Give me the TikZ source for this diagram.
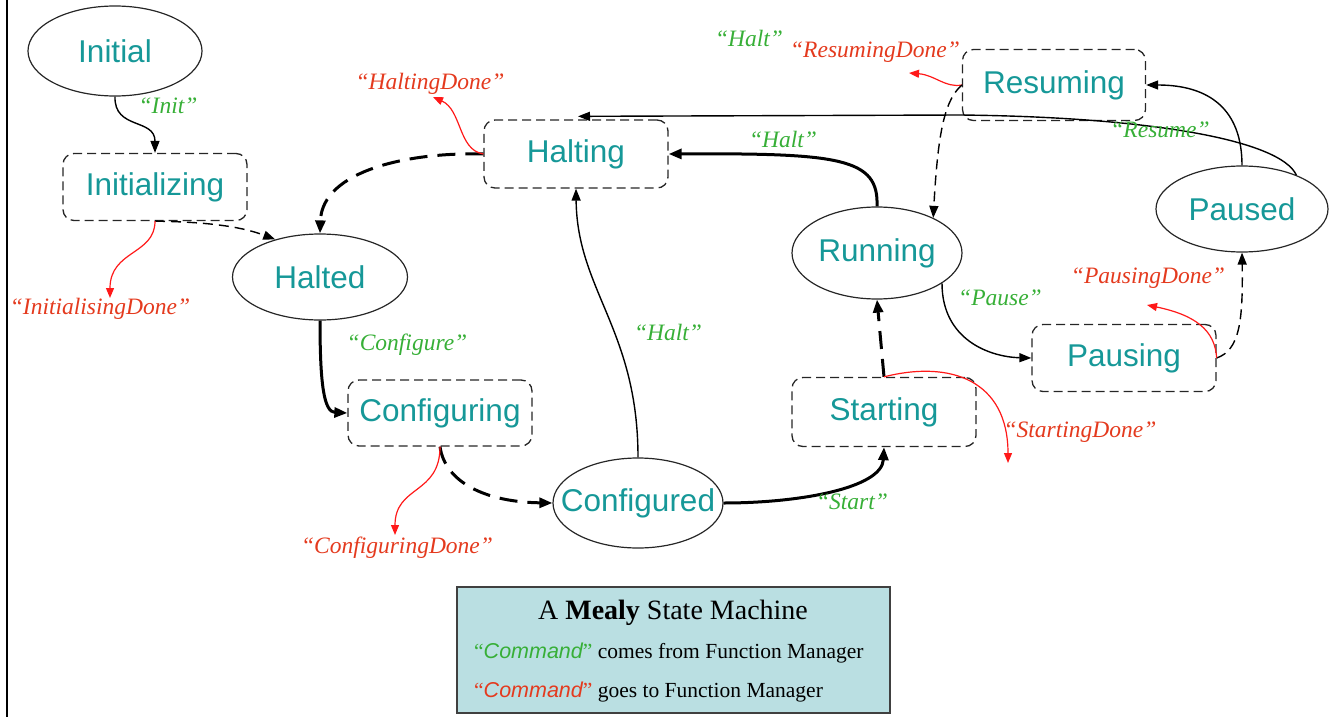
\documentclass[tikz,border=0pt]{standalone}
\usepackage{fontspec}
\setmainfont{Liberation Serif}
\newfontfamily\sansstate{Liberation Sans}
\usetikzlibrary{shapes.geometric,arrows.meta,calc}
\definecolor{stateteal}{RGB}{22,152,152}
\definecolor{lblgreen}{RGB}{55,175,55}
\definecolor{lblred}{RGB}{228,58,30}
\definecolor{arrred}{RGB}{255,25,25}
\definecolor{legendfill}{RGB}{186,223,226}
\begin{document}
\begin{tikzpicture}[x=1pt,y=-1pt,
  every node/.style={inner sep=0pt},
  stateell/.style={ellipse,draw=black!85,line width=1.2pt,text=stateteal,
    font=\sansstate\fontsize{31.5}{36}\selectfont},
  procbox/.style={rectangle,rounded corners=11pt,draw=black!85,line width=1.3pt,
    dash pattern=on 9pt off 5pt,minimum width=184pt,minimum height=68pt,text=stateteal,
    font=\sansstate\fontsize{31.5}{36}\selectfont},
  gl/.style={text=lblgreen,font=\itshape\fontsize{23.5}{26}\selectfont},
  rl/.style={text=lblred,font=\itshape\fontsize{23.5}{26}\selectfont},
  conn/.style={draw=black,line width=1.4pt,-{Triangle[length=12pt,width=9pt]}},
  tconn/.style={draw=black,line width=3pt,-{Triangle[length=13pt,width=10pt]}},
  dconn/.style={conn,dash pattern=on 10pt off 6pt},
  tdconn/.style={tconn,dash pattern=on 18pt off 10pt},
  rconn/.style={draw=arrred,line width=1.2pt,-{Triangle[length=10pt,width=8pt]}}
]
\useasboundingbox (0,0) rectangle (1333,717);
\draw[line width=2pt] (7,0) -- (7,717);

% states
\node[stateell,minimum width=174pt,minimum height=90pt] (initial) at (115,51) {Initial};
\node[procbox,minimum height=67pt] (initializing) at (155,187) {Initializing};
\node[stateell,minimum width=175pt,minimum height=86pt] (halted) at (320,277) {Halted};
\node[procbox] (halting) at (576,154) {Halting};
\node[procbox,minimum height=66pt] (configuring) at (440,413) {Configuring};
\node[stateell,minimum width=170pt,minimum height=90pt] (configured) at (638,503) {\makebox[0pt][c]{Configured}};
\node[procbox,minimum height=69pt] (starting) at (884,412) {Starting};
\node[stateell,minimum width=170pt,minimum height=92pt] (running) at (877,253) {Running};
\node[procbox,minimum width=183pt,minimum height=71pt] (resuming) at (1054,85) {Resuming};
\node[stateell,minimum width=172pt,minimum height=86pt] (paused) at (1242,209) {Paused};
\node[procbox,minimum height=67pt] (pausing) at (1124,358) {Pausing};

% free ends of the red arrows
\coordinate (cidone) at (110,298);
\coordinate (chdone) at (433,97);
\coordinate (ccdone) at (395,535);
\coordinate (csdone) at (1008,463);
\coordinate (cpdone) at (1147,305);
\coordinate (crdone) at (909,73);
\coordinate (cbend) at (960,115);

% transitions
\draw[conn] (initial.south) .. controls (114,130) and (155,118) .. (initializing.north);
\draw[dconn] (initializing.south) .. controls (215,222) and (245,228) .. (halted.140);
\draw[rconn] (initializing.south) .. controls (155,255) and (110,250) .. (cidone);
\draw[tdconn] (halting.west) .. controls (410,152) and (322,170) .. (halted.north);
\draw[rconn] (halting.west) .. controls (458,150) and (462,110) .. (chdone);
\draw[tconn] (halted.south) .. controls (320,385) and (324,412) .. (configuring.west);
\draw[tdconn] (configuring.south) .. controls (445,482) and (485,502) .. (configured.west);
\draw[rconn] (configuring.south) .. controls (440,495) and (395,485) .. (ccdone);
\draw[conn] (configured.north) .. controls (638,330) and (577,290) .. (halting.south);
\draw[tconn] (configured.east) .. controls (800,503) and (882,488) .. (starting.south);
\draw[tdconn] (starting.north) -- (running.south);
\draw[rconn] (starting.north) .. controls (950,360) and (1008,380) .. (csdone);
\draw[tconn] (running.north) .. controls (879,158) and (840,153) .. (halting.east);
\draw[conn] (running.-25) .. controls (942,340) and (990,357) .. (pausing.west);
\draw[dconn] (pausing.east) .. controls (1240,350) and (1243,320) .. (paused.south);
\draw[rconn] (pausing.east) .. controls (1215,330) and (1195,315) .. (cpdone);
\draw[conn] (paused.north) .. controls (1242,110) and (1210,85) .. (resuming.east);
\draw[conn] (paused.32) .. controls (1280,140) and (1150,117) .. (cbend) -- ($(halting.north)+(2,-3)$);
\draw[rconn] (resuming.west) .. controls (945,88) and (935,75) .. (crdone);
\draw[dconn] (resuming.west) .. controls (945,100) and (938,130) .. (running.32);

% labels
\node[gl] (linit) at (168,106) {“Init”};
\node[rl] (lidone) at (100,309) {“InitialisingDone”};
\node[rl] (lhdone) at (430,84) {“HaltingDone”};
\node[gl] (lconf) at (407,345) {“Configure”};
\node[rl] (lcdone) at (397,548) {“ConfiguringDone”};
\node[gl] (lhalt1) at (668,332) {“Halt”};
\node[gl] (lstart) at (852,502) {“Start”};
\node[rl] (lsdone) at (1080,432) {“StartingDone”};
\node[gl] (lhalt2) at (783,139) {“Halt”};
\node[gl] (lpause) at (1000,298) {“Pause”};
\node[rl] (lpdone) at (1148,278) {“PausingDone”};
\node[gl] (lresume) at (1160,130) {“Resume”};
\node[gl] (lhalt3) at (749,38) {“Halt”};
\node[rl] (lrdone) at (875,52) {“ResumingDone”};

% legend
\node[draw=black!75,line width=1.5pt,fill=legendfill,minimum width=433pt,minimum height=126pt] (legend) at (673.5,650) {};
\node[font=\fontsize{28}{31}\selectfont] (ltitle) at (673,613) {A \textbf{Mealy} State Machine};
\node[anchor=west,font=\fontsize{21.5}{25}\selectfont] (lfrom) at (474,653)
  {{\color{lblgreen}“{\sansstate\itshape Command}”} comes from Function Manager};
\node[anchor=west,font=\fontsize{21.5}{25}\selectfont] (lto) at (474,692)
  {{\color{lblred}“{\sansstate\itshape Command}”} goes to Function Manager};
\end{tikzpicture}
\end{document}
